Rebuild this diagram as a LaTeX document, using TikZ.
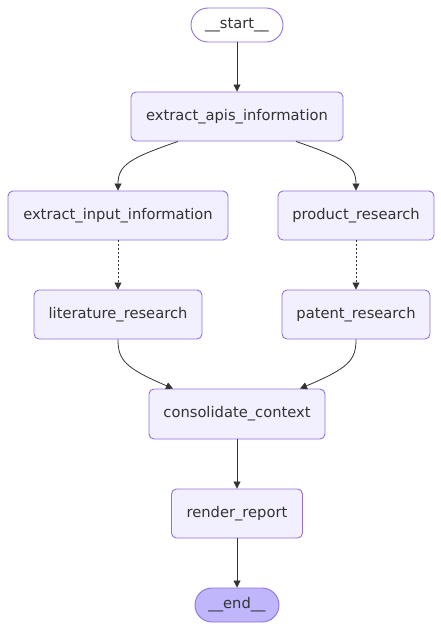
\documentclass[tikz,border=0pt]{standalone}
\usepackage{fontspec}
\setmainfont{DejaVu Sans}
\usetikzlibrary{arrows.meta}

\definecolor{nodefill}{HTML}{F2F0FF}
\definecolor{nodeline}{HTML}{9370DB}
\definecolor{endfill}{HTML}{BFB6FC}
\definecolor{edgegray}{HTML}{333333}

\begin{document}
\begin{tikzpicture}[x=1pt,y=-1pt,line join=round,
    stepbox/.style={draw=nodeline,fill=nodefill,line width=0.9pt,rounded corners=5pt,
      minimum height=49pt,inner sep=0pt,text=edgegray,font=\fontsize{14.7}{17}\selectfont},
    pill/.style={stepbox,rounded corners=17pt,minimum height=34pt},
    flow/.style={draw=edgegray,line width=0.8pt,-{Triangle[length=7pt,width=7pt]}},
    maybe/.style={flow,dash pattern=on 2pt off 2pt}]

  \useasboundingbox (0,0) rectangle (441,630);

  % ---- column centres ----
  \def\midX{237}
  \def\leftX{118}
  \def\rightX{356}

  % ---- nodes ----
  \node[pill,fill=white,minimum width=92pt] (start) at (\midX,25) {\_\_start\_\_};
  \node[stepbox,minimum width=212pt] (apis) at (\midX,116.5) {extract\_apis\_information};
  \node[stepbox,minimum width=220pt] (input) at (\leftX,215.5) {extract\_input\_information};
  \node[stepbox,minimum width=156pt] (product) at (\rightX,215.5) {product\_research};
  \node[stepbox,minimum width=168pt] (literature) at (\leftX,314.5) {literature\_research};
  \node[stepbox,minimum width=148pt] (patent) at (\rightX,314.5) {patent\_research};
  \node[stepbox,minimum width=176pt,minimum height=50pt] (consolidate) at (\midX,414) {consolidate\_context};
  \node[stepbox,minimum width=131pt] (render) at (\midX,513.5) {render\_report};
  \node[pill,fill=endfill,minimum width=84pt] (end) at (\midX,605) {\_\_end\_\_};

  % ---- edges ----
  \draw[flow] (start) -- (apis);
  \draw[flow] ([xshift=-59pt]apis.south) .. controls (130,158) and (\leftX,165) .. (input.north);
  \draw[flow] ([xshift=59pt]apis.south) .. controls (344,158) and (\rightX,165) .. (product.north);
  \draw[maybe] (input) -- (literature);
  \draw[maybe] (product) -- (patent);
  \draw[flow] (literature.south) .. controls (\leftX,360) and (125,368) .. ([xshift=-64pt]consolidate.north);
  \draw[flow] (patent.south) .. controls (\rightX,360) and (349,368) .. ([xshift=63pt]consolidate.north);
  \draw[flow] (consolidate) -- (render);
  \draw[flow] (render) -- (end);

\end{tikzpicture}
\end{document}
